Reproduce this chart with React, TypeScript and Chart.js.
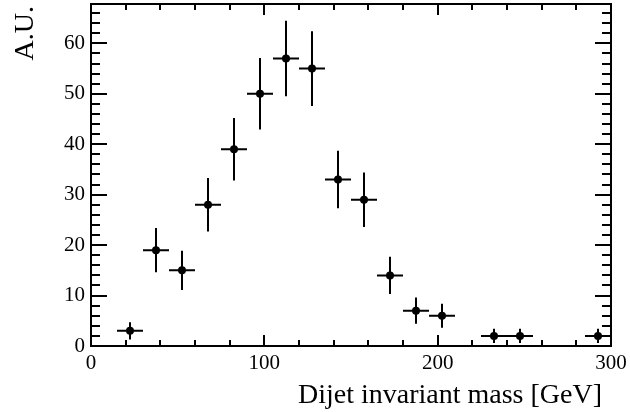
import React, { useEffect, useRef } from "react";
import { Chart, registerables } from "chart.js";

Chart.register(...registerables);

// ---- data ----
const binCenters = [22.5, 37.5, 52.5, 67.5, 82.5, 97.5, 112.5, 127.5, 142.5, 157.5, 172.5, 187.5, 202.5, 232.5, 247.5, 292.5];
const binHalfWidth = 7.5;
const counts = [3, 19, 15, 28, 39, 50, 57, 55, 33, 29, 14, 7, 6, 2, 2, 2];
const errors = [1.7, 4.4, 3.9, 5.3, 6.2, 7.1, 7.5, 7.4, 5.7, 5.4, 3.7, 2.6, 2.4, 1.4, 1.4, 1.4];
const xMajorTicks = [0, 100, 200, 300];
const xMinorTicks = [20, 40, 60, 80, 120, 140, 160, 180, 220, 240, 260, 280];
const yMajorTicks = [0, 10, 20, 30, 40, 50, 60];
const yMinorTicks = [2, 4, 6, 8, 12, 14, 16, 18, 22, 24, 26, 28, 32, 34, 36, 38, 42, 44, 46, 48, 52, 54, 56, 58, 62, 64, 66];
const xTitle = "Dijet invariant mass [GeV]";
const yTitle = "A.U.";

const FONT = "'Liberation Serif', 'DejaVu Serif', serif";

const rootStylePlugin = {
  id: "rootStyle",
  beforeDatasetsDraw(chart: any) {
    const { ctx, scales } = chart;
    const xs = scales.x;
    const ys = scales.y;
    ctx.save();
    ctx.strokeStyle = "#000";
    ctx.lineWidth = 2;
    ctx.beginPath();
    for (let i = 0; i < binCenters.length; i++) {
      const px = xs.getPixelForValue(binCenters[i]);
      const py = ys.getPixelForValue(counts[i]);
      ctx.moveTo(xs.getPixelForValue(binCenters[i] - binHalfWidth), py);
      ctx.lineTo(xs.getPixelForValue(binCenters[i] + binHalfWidth), py);
      ctx.moveTo(px, ys.getPixelForValue(counts[i] - errors[i]));
      ctx.lineTo(px, ys.getPixelForValue(counts[i] + errors[i]));
    }
    ctx.stroke();
    ctx.restore();
  },
  afterDraw(chart: any) {
    const { ctx, chartArea, scales } = chart;
    const xs = scales.x;
    const ys = scales.y;
    const { left, right, top, bottom } = chartArea;
    ctx.save();
    ctx.strokeStyle = "#000";
    ctx.lineWidth = 2;
    ctx.strokeRect(left, top, right - left, bottom - top);
    ctx.beginPath();
    const xTick = (v: number, len: number) => {
      const p = Math.round(xs.getPixelForValue(v));
      ctx.moveTo(p, bottom);
      ctx.lineTo(p, bottom - len);
      ctx.moveTo(p, top);
      ctx.lineTo(p, top + len);
    };
    const yTick = (v: number, len: number) => {
      const p = Math.round(ys.getPixelForValue(v));
      ctx.moveTo(left, p);
      ctx.lineTo(left + len, p);
      ctx.moveTo(right, p);
      ctx.lineTo(right - len, p);
    };
    xMajorTicks.forEach((v) => xTick(v, 11));
    xMinorTicks.forEach((v) => xTick(v, 6));
    yMajorTicks.forEach((v) => yTick(v, 16));
    yMinorTicks.forEach((v) => yTick(v, 9));
    ctx.stroke();

    ctx.fillStyle = "#000";
    ctx.font = `28px ${FONT}`;
    ctx.textAlign = "right";
    ctx.textBaseline = "alphabetic";
    ctx.fillText(xTitle, right - 9, 403);

    ctx.translate(33, top + 2);
    ctx.rotate(-Math.PI / 2);
    ctx.textAlign = "right";
    ctx.fillText(yTitle, 0, 0);
    ctx.restore();
  },
};

export default function App() {
  const ref = useRef<HTMLCanvasElement | null>(null);
  useEffect(() => {
    if (!ref.current) return;
    const chart = new Chart(ref.current, {
      type: "scatter",
      data: {
        datasets: [
          {
            data: binCenters.map((x, i) => ({ x, y: counts[i] })),
            pointRadius: 4,
            pointHoverRadius: 4,
            pointBackgroundColor: "#000",
            pointBorderWidth: 0,
            borderColor: "#000",
            showLine: false,
          },
        ],
      },
      options: {
        animation: false,
        responsive: false,
        events: [],
        layout: { padding: { left: 0, right: 19, top: 2, bottom: 0 } },
        plugins: { legend: { display: false }, tooltip: { enabled: false } },
        scales: {
          x: {
            type: "linear",
            min: 0,
            max: 300,
            grid: { display: false, drawTicks: false },
            border: { display: false },
            afterFit: (s: any) => {
              s.height = 66;
              s.paddingLeft = 0;
              s.paddingRight = 0;
            },
            afterBuildTicks: (s: any) => {
              s.ticks = xMajorTicks.map((v) => ({ value: v }));
            },
            ticks: {
              color: "#000",
              font: { family: FONT, size: 21 },
              padding: 5,
              maxRotation: 0,
              autoSkip: false,
            },
          },
          y: {
            type: "linear",
            min: 0,
            max: 67.8,
            grid: { display: false, drawTicks: false },
            border: { display: false },
            afterFit: (s: any) => {
              s.width = 91;
              s.paddingTop = 0;
              s.paddingBottom = 0;
            },
            afterBuildTicks: (s: any) => {
              s.ticks = yMajorTicks.map((v) => ({ value: v }));
            },
            ticks: {
              color: "#000",
              font: { family: FONT, size: 21 },
              padding: 6,
              autoSkip: false,
            },
          },
        },
      },
      plugins: [rootStylePlugin],
    } as any);
    return () => chart.destroy();
  }, []);
  return (
    <div style={{ position: "fixed", left: 0, top: 0, width: 630, height: 412, background: "#fff" }}>
      <canvas ref={ref} width={630} height={412} />
    </div>
  );
}
